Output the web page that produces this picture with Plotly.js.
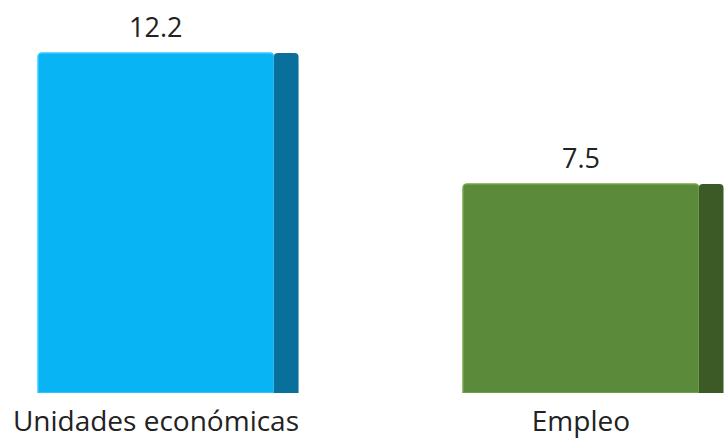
<!DOCTYPE html>
<html>
<head>
<meta charset="utf-8">
<script src="https://cdn.plot.ly/plotly-3.0.1.min.js"></script>
<style>html,body{margin:0;padding:0;background:#fff;}#chart{width:725px;height:441px;}</style>
</head>
<body>
<div id="chart"></div>
<script>
const categories = ['Unidades económicas', 'Empleo'];
const values = [12.2, 7.5];
const labels = ['12.2', '7.5'];
const frontColors = ['#08B4F4', '#5B8A3B'];
const sideColors = ['#08709A', '#3B5A26'];
const edgeColors = ['#35C8FF', '#74A64F'];

const xpos = categories.map((c, i) => i);
const frontW = 0.555;
const sideW = 0.058;

const front = {
  type: 'bar', x: xpos, y: values, width: frontW,
  marker: {color: frontColors, line: {color: edgeColors, width: 1.5}},
  hoverinfo: 'skip', showlegend: false
};
const side = {
  type: 'bar', x: xpos, y: values, width: sideW, offset: frontW / 2,
  marker: {color: sideColors, line: {width: 0}},
  hoverinfo: 'skip', showlegend: false
};

const annotations = xpos.map((x, i) => ({
  x: x, y: values[i], xref: 'x', yref: 'y', text: labels[i],
  showarrow: false, yanchor: 'bottom', yshift: 6,
  font: {family: 'Open Sans, sans-serif', size: 27, color: '#222'}
}));

const layout = {
  width: 725, height: 441,
  margin: {l: 0, r: 0, t: 10, b: 48},
  paper_bgcolor: '#fff', plot_bgcolor: '#fff',
  barmode: 'overlay', barcornerradius: 4,
  font: {family: 'Open Sans, sans-serif', color: '#222'},
  annotations: annotations,
  xaxis: {
    range: [-0.367, 1.339], tickvals: xpos, ticktext: categories,
    showgrid: false, zeroline: false, showline: false, ticks: '',
    tickfont: {size: 28, color: '#222'}, ticklabelstandoff: 9, fixedrange: true
  },
  yaxis: {
    range: [0, 13.74], visible: false, fixedrange: true
  }
};

Plotly.newPlot('chart', [front, side], layout, {displayModeBar: false, staticPlot: true});
</script>
</body>
</html>
